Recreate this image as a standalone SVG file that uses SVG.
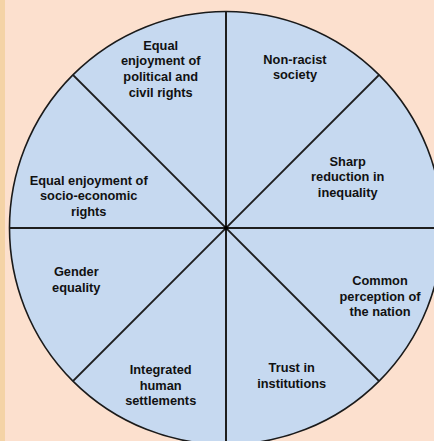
<svg xmlns="http://www.w3.org/2000/svg" width="434" height="441" viewBox="0 0 434 441">
  <style>
    .bg { fill: #FCE0CE; }
    .strip { fill: #F4D3A6; }
    .wheel { fill: #C6D9F0; stroke: #1A1A1A; stroke-width: 1.6; }
    .spoke { stroke: #1E1E1E; stroke-width: 2; }
    .label { font-family: "Liberation Sans", Arial, sans-serif; font-size: 12.8px; font-weight: bold; fill: #111; text-anchor: middle; }
  </style>
  <rect class="bg" x="0" y="0" width="434" height="441"/>
  <rect class="strip" x="0" y="0" width="5" height="441"/>

  <g id="wheel">
    <circle class="wheel" cx="226" cy="228" r="216.5"/>
  </g>

  <g id="connectors">
    <line class="spoke" x1="226" y1="11.5" x2="226" y2="444.5"/>
    <line class="spoke" x1="9.5" y1="228" x2="442.5" y2="228"/>
    <line class="spoke" x1="72.9" y1="74.9" x2="379.1" y2="381.1"/>
    <line class="spoke" x1="379.1" y1="74.9" x2="72.9" y2="381.1"/>
    <circle cx="226" cy="228" r="2" fill="#000"/>
  </g>

  <g id="political-civil-rights">
    <text class="label"><tspan x="160.7" y="49.5">Equal</tspan><tspan x="160.7" y="65.2">enjoyment of</tspan><tspan x="160.7" y="80.8">political and</tspan><tspan x="160.7" y="96.5">civil rights</tspan></text>
  </g>
  <g id="non-racist-society">
    <text class="label"><tspan x="295" y="63.5">Non-racist</tspan><tspan x="295" y="79.2">society</tspan></text>
  </g>
  <g id="reduced-inequality">
    <text class="label"><tspan x="347.7" y="165.5">Sharp</tspan><tspan x="347.7" y="181.2">reduction in</tspan><tspan x="347.7" y="196.8">inequality</tspan></text>
  </g>
  <g id="socio-economic-rights">
    <text class="label"><tspan x="88.7" y="184.7">Equal enjoyment of</tspan><tspan x="88.7" y="200.2">socio-economic</tspan><tspan x="88.7" y="215.6">rights</tspan></text>
  </g>
  <g id="gender-equality">
    <text class="label"><tspan x="76.3" y="276.2">Gender</tspan><tspan x="76.3" y="291.8">equality</tspan></text>
  </g>
  <g id="nation-perception">
    <text class="label"><tspan x="380" y="285.2">Common</tspan><tspan x="380" y="300.8">perception of</tspan><tspan x="380" y="316.4">the nation</tspan></text>
  </g>
  <g id="human-settlements">
    <text class="label"><tspan x="160.7" y="373.8">Integrated</tspan><tspan x="160.7" y="389.6">human</tspan><tspan x="160.7" y="405.2">settlements</tspan></text>
  </g>
  <g id="trust-institutions">
    <text class="label"><tspan x="291.7" y="372.2">Trust in</tspan><tspan x="291.7" y="387.8">institutions</tspan></text>
  </g>
</svg>
